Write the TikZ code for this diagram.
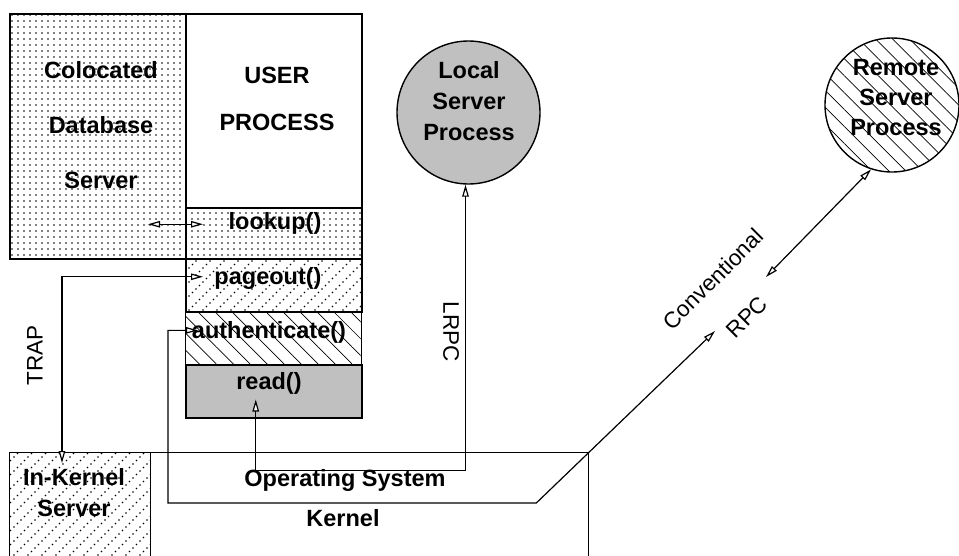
\documentclass[tikz,border=0pt]{standalone}
\usepackage{fontspec}
\setmainfont{Liberation Sans}
\usetikzlibrary{arrows.meta,patterns,patterns.meta,calc}

\definecolor{xgray}{RGB}{192,192,192}

% diagonal rows of small dots
\tikzdeclarepattern{
  name=dotrows,
  type=uncolored,
  bottom left={(-1pt,-1pt)},
  top right={(15pt,15pt)},
  tile size={(14pt,14pt)},
  code={
    \foreach \k in {0,1,2,3}
      \fill (\k*3.5pt,\k*3.5pt) circle (0.8pt);
  }
}

\begin{document}
\begin{tikzpicture}[x=1pt,y=-1pt,
  box/.style={draw, line width=1.5pt, rectangle, inner sep=0pt, anchor=north west},
  blbl/.style={font=\fontsize{23.5}{31}\selectfont\bfseries, align=center, inner sep=0pt},
  rlbl/.style={font=\fontsize{22.5}{27}\selectfont, inner sep=0pt},
  dbl/.style={line width=1.2pt, {Triangle[fill=white,length=12pt,width=6.5pt]}-{Triangle[fill=white,length=12pt,width=6.5pt]}},
  dotfill/.style={pattern={Dots[distance=6pt,radius=0.85pt]}},
  rowfill/.style={pattern=dotrows},
  hatchfill/.style={pattern={Lines[angle=-45,distance=12pt,line width=0.7pt]}},
]
\path[fill=white] (0,0) rectangle (959,555);
\useasboundingbox (0,0) rectangle (959,555);

% kernel and in-kernel server
\node[box, line width=1.3pt, minimum width=579pt, minimum height=120pt] (kernel) at (9,452) {};
\node[box, line width=1.3pt, rowfill, minimum width=141pt, minimum height=120pt] (inkernel) at (9,452) {};

% colocated server and user process with its stubs
\node[box, dotfill, minimum width=176pt, minimum height=245pt] (colo) at (9,13) {};
\node[box, minimum width=176pt, minimum height=194pt] (user) at (185,13) {};
\node[box, dotfill, minimum width=176pt, minimum height=51pt] (lookup) at (185,207) {};
\node[box, rowfill, minimum width=176pt, minimum height=53pt] (pageout) at (185,258) {};
\node[box, hatchfill, minimum width=176pt, minimum height=53pt] (auth) at (185,311) {};
\node[box, fill=xgray, minimum width=176pt, minimum height=53pt] (read) at (185,364) {};

% server processes
\node[circle, draw, line width=1.4pt, fill=xgray, minimum size=143pt, inner sep=0pt] (local) at (468.5,112.5) {};
\node[circle, draw, line width=1.4pt, hatchfill, minimum size=134pt, inner sep=0pt] (remote) at (892,105) {};

% box texts
\node[blbl, font=\fontsize{23.5}{55}\selectfont\bfseries] (coloT) at (101,125) {Colocated\\Database\\Server};
\node[blbl, font=\fontsize{23.5}{47}\selectfont\bfseries] (userT) at (277,98.5) {USER\\PROCESS};
\node[blbl] (lookupT) at (275,223) {lookup()};
\node[blbl] (pageoutT) at (268,278) {pageout()};
\node[blbl] (authT) at (269,332) {authenticate()};
\node[blbl] (readT) at (269,383) {read()};
\node[blbl] (localT) at (469,101) {Local\\Server\\Process};
\node[blbl, font=\fontsize{23.5}{30}\selectfont\bfseries] (remoteT) at (896,97.5) {Remote\\Server\\Process};
\node[blbl] (inkernelT) at (74,492.5) {In-Kernel\\Server};
\node[blbl] (osT) at (345,480) {Operating System};
\node[blbl] (kernelT) at (343,518) {Kernel};

% connector labels
\node[rlbl, rotate=90] (trapT) at (35,355) {TRAP};
\node[rlbl, rotate=-90] (lrpcT) at (451,332) {LRPC};
\node[rlbl, rotate=45] (convT) at (713,279) {Conventional};
\node[rlbl, rotate=45] (rpcT) at (747,317) {RPC};

% free ends of the remote call path
\coordinate (convtip) at ($(kernel.north east)+(125.7,-121)$);
\coordinate (rpcend) at (766,277);

% connectors
\draw[dbl] ($(lookup.west)+(-37,-9)$) -- ($(lookup.west)+(18,-9)$);
\draw[dbl] ($(pageout.west)+(18,-8.5)$) -| ($(inkernel.north west)+(53,11)$);
\draw[dbl] ($(auth.west)+(13,-7.5)$) -- ++(-30,0) |- ($(kernel.north east)+(-53,51)$) -- (convtip);
\draw[dbl] ($(read.south)+(-18,-19)$) -- ++(0,71) -| ([xshift=-3pt]local.south);
\draw[dbl] (rpcend) -- (remote.252);
\end{tikzpicture}
\end{document}
